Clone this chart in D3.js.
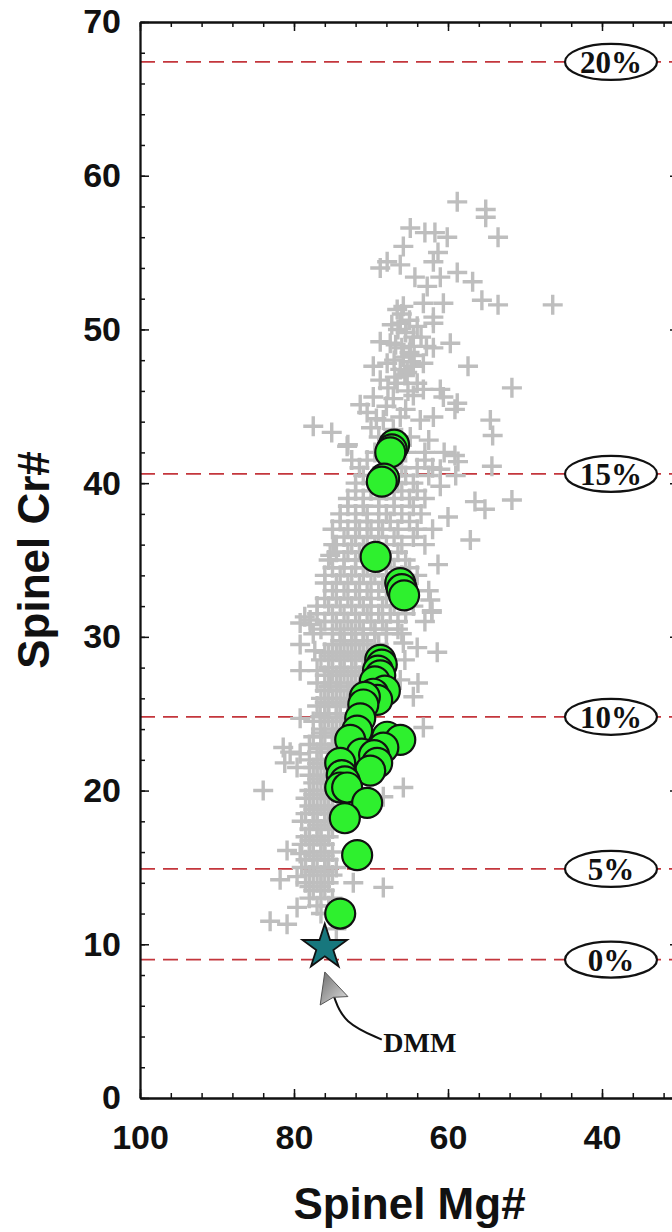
<!DOCTYPE html>
<html>
<head>
<meta charset="utf-8">
<script src="https://cdn.jsdelivr.net/npm/d3@7"></script>
<style>
  html, body { margin: 0; padding: 0; background: #fff; }
  svg { display: block; }
</style>
</head>
<body>
<div id="chart"></div>
<script>
// Spinel Mg# (x, reversed) vs Spinel Cr# (y)
const xMajorTicks = [100, 80, 60, 40];
const yMajorTicks = [0, 10, 20, 30, 40, 50, 60, 70];

// melting degree reference lines
const meltLabels = ["0%", "5%", "10%", "15%", "20%"];
const meltCr = [9.0, 14.9, 24.8, 40.6, 67.4];

// gray crosses, [Mg#, Cr#]
const crossUpper = [
  [58.8,58.3],[55.1,57.8],[55.1,57.3],[53.5,56.0],[64.9,56.6],[63.0,56.3],[61.7,56.3],[60.1,56.0],
  [65.8,55.4],[61.3,55.0],[67.9,54.4],[68.8,54.0],[66.2,54.2],[61.9,54.4],[64.3,53.4],[61.0,53.4],
  [58.8,53.7],[56.8,53.1],[62.7,52.8],[55.6,51.9],[53.5,51.6],[46.4,51.6],[60.6,51.7],[63.2,51.7],
  [66.6,51.3],[65.8,51.5],[61.9,50.8],[61.9,50.4],[66.2,50.4],[64.0,50.2],[64.5,49.5],[67.5,49.1],
  [64.9,48.9],[59.7,49.1],[61.9,48.8],[68.8,49.2],[65.8,48.2],[69.7,47.6],[67.9,47.8],[66.2,47.4],
  [64.5,47.6],[63.2,47.8],[57.4,47.6],[68.8,46.7],[66.6,46.5],[65.3,47.2],[51.7,46.2],[69.7,45.6],
  [67.1,45.5],[64.5,45.7],[63.2,46.1],[61.0,46.1],[60.6,45.6],[58.8,45.2],[59.1,44.8],[71.4,45.1],
  [70.5,44.6],[68.4,44.1],[66.2,44.3],[63.6,44.1],[61.9,44.3],[54.5,44.1],[54.2,43.1],[77.5,43.7],
  [75.1,43.3],[73.1,42.4],[64.9,43.0],[67.1,43.5],
  [66.5,50.0],[65.5,49.8],[66.8,49.0],[65.0,48.5],[66.0,48.8],[67.0,48.0],[64.8,47.9],[65.6,47.0],
  [66.9,46.9],[67.8,46.2],[65.2,46.0],[64.0,46.5],[66.0,51.0],[65.0,50.6],[67.3,50.3],[64.4,48.3],
  [63.5,49.5],[62.8,48.9],[69.0,43.0],[70.0,43.6],[62.5,42.8],[68.0,45.0],[65.5,44.8],[69.3,44.2]
];

const crossMiddle = [
  [51.7,38.9],[54.3,41.1],[55.2,38.3],[59.1,41.8],[58.7,41.4],[61.0,40.9],[57.1,36.3],[61.3,34.7],
  [62.1,31.7],[62.3,32.4],[72.5,41.5],[74.9,36.0],[75.3,35.3],[78.6,31.3],[77.9,31.1],[73.0,42.5],
  [69.5,42.0],[67.5,42.0],[65.5,42.0],[63.0,42.0],[60.5,42.0],
  [70.5,41.5],[67.0,41.5],[63.0,41.5],
  [71.5,41.0],[68.5,41.0],[66.0,41.0],[64.0,41.0],[62.0,41.0],[59.0,40.5],
  [71.0,40.5],[68.0,40.5],[65.5,40.5],[62.5,40.5],
  [72.0,40.0],[70.0,40.0],[66.5,40.0],[64.5,40.0],[61.0,39.8],
  [72.0,39.5],[70.0,39.5],[68.0,39.5],[66.0,39.5],[64.0,39.5],
  [73.0,39.0],[71.0,39.0],[69.0,39.0],[67.0,39.0],[65.0,39.0],[63.0,39.0],[56.5,38.8],
  [73.0,38.5],[71.0,38.5],[69.0,38.5],[67.0,38.5],[64.5,38.5],
  [74.0,38.0],[72.0,38.0],[70.5,38.0],[68.0,38.0],[66.0,38.0],[63.5,38.0],[60.0,37.8],
  [74.0,37.5],[72.0,37.5],[70.5,37.5],[69.0,37.5],[67.5,37.5],[65.0,37.5],
  [75.0,37.0],[73.0,37.0],[71.5,37.0],[70.0,37.0],[68.5,37.0],[66.5,37.0],[64.0,37.0],[62.0,37.0],
  [73.5,36.5],[72.0,36.5],[70.5,36.5],[69.0,36.5],[67.0,36.5],[64.5,36.5],
  [74.5,36.0],[72.5,36.0],[71.0,36.0],[69.5,36.0],[68.0,36.0],[66.0,36.0],[63.0,36.0],
  [74.5,35.5],[73.0,35.5],[71.5,35.5],[70.0,35.5],[68.5,35.5],[66.5,35.5],
  [75.5,35.0],[73.5,35.0],[72.0,35.0],[70.5,35.0],[69.0,35.0],[67.5,35.0],[65.5,35.0],
  [75.0,34.5],[73.5,34.5],[72.0,34.5],[70.5,34.5],[69.0,34.5],[67.0,34.5],[65.0,34.5],
  [76.0,34.0],[74.0,34.0],[72.5,34.0],[71.0,34.0],[69.5,34.0],[68.0,34.0],[66.0,34.0],[64.0,34.0],
  [76.0,33.5],[74.5,33.5],[73.0,33.5],[71.5,33.5],[70.0,33.5],[68.5,33.5],[66.5,33.5],
  [75.0,33.0],[73.5,33.0],[72.0,33.0],[70.5,33.0],[69.0,33.0],[67.5,33.0],[65.0,33.0],[62.5,33.0],
  [76.0,32.5],[74.5,32.5],[73.0,32.5],[71.5,32.5],[70.0,32.5],[68.0,32.5],[66.0,32.5],
  [77.0,32.0],[75.5,32.0],[74.0,32.0],[72.5,32.0],[71.0,32.0],[70.0,32.0],[68.5,32.0],[67.0,32.0],[64.5,32.0],
  [77.0,31.5],[75.0,31.5],[73.5,31.5],[72.0,31.5],[70.5,31.5],[69.0,31.5],[67.5,31.5],[65.5,31.5],
  [76.0,31.0],[74.5,31.0],[73.0,31.0],[71.5,31.0],[70.0,31.0],[68.5,31.0],[66.5,31.0],[63.0,31.0],
  [76.5,30.5],[74.0,30.5],[72.5,30.5],[71.0,30.5],[69.5,30.5],[68.0,30.5],[66.5,30.5],
  [77.5,30.2],[75.0,30.2],[73.5,30.2],[72.0,30.2],[71.0,30.2],[69.5,30.2],[68.0,30.2],[66.0,30.2],[62.1,31.6],
  [79.2,30.9],[77.9,30.8]
];

const crossLower = [
  [65.8,29.6],[64.0,29.3],[61.4,29.0],[79.2,27.8],[77.0,27.8],[75.3,27.0],[64.5,26.1],[79.2,24.7],
  [76.6,24.8],[63.2,24.1],[81.4,22.8],[80.5,22.5],[79.2,22.4],[81.2,21.8],[79.6,21.5],[84.0,20.0],
  [65.8,20.2],[68.4,19.6],[80.9,16.1],[79.2,15.9],[81.8,14.2],[79.6,14.4],[68.4,13.7],[72.3,14.0],
  [79.6,12.4],[83.1,11.5],[80.9,11.3],[66.2,27.2],[63.9,27.0],[65.6,28.5],[79.2,29.5],[77.3,29.1],
  [75.0,29.5],[73.5,29.5],[72.0,29.5],[70.5,29.5],[69.0,29.5],
  [74.0,29.75],[72.5,29.75],[71.0,29.75],
  [76.0,29.0],[74.5,29.0],[73.0,29.0],[71.5,29.0],[70.0,29.0],
  [75.5,28.75],[74.0,28.75],[72.5,28.75],[71.0,28.75],
  [76.5,28.5],[75.0,28.5],[73.5,28.5],[72.0,28.5],[70.5,28.5],
  [75.5,28.0],[74.0,28.0],[72.5,28.0],[71.0,28.0],
  [75.0,27.75],[73.5,27.75],[72.0,27.75],
  [76.0,27.5],[74.5,27.5],[73.0,27.5],[71.5,27.5],
  [77.0,27.0],[74.0,27.0],[72.5,27.0],[71.0,27.0],
  [75.5,26.75],[74.0,26.75],[72.5,26.75],
  [76.0,26.5],[74.5,26.5],[73.0,26.5],[71.5,26.5],
  [76.5,26.0],[75.0,26.0],[73.5,26.0],[72.0,26.0],
  [76.0,25.75],[74.5,25.75],[73.0,25.75],
  [77.0,25.5],[75.5,25.5],[74.0,25.5],[72.5,25.5],
  [76.0,25.0],[74.5,25.0],[73.0,25.0],
  [75.5,24.75],[74.0,24.75],[72.5,24.75],
  [77.5,24.5],[76.0,24.5],[74.5,24.5],[73.0,24.5],
  [76.5,24.0],[75.0,24.0],[73.5,24.0],
  [76.5,23.75],[75.0,23.75],[73.5,23.75],
  [77.5,23.5],[76.0,23.5],[74.5,23.5],[73.0,23.5],
  [78.0,23.0],[76.5,23.0],[75.0,23.0],[73.5,23.0],
  [76.5,22.75],[75.0,22.75],
  [77.0,22.5],[75.5,22.5],[74.0,22.5],
  [78.0,22.0],[76.5,22.0],[75.0,22.0],
  [77.0,21.75],[75.5,21.75],
  [77.5,21.5],[76.0,21.5],[74.5,21.5],
  [78.0,21.0],[76.5,21.0],[75.0,21.0],
  [77.0,20.75],[75.5,20.75],
  [77.5,20.5],[76.0,20.5],[74.5,20.5],
  [78.0,20.0],[76.5,20.0],[75.0,20.0],
  [77.5,19.75],[76.0,19.75],
  [78.5,19.5],[77.0,19.5],[75.5,19.5],
  [78.0,19.0],[76.5,19.0],[75.0,19.0],
  [77.5,18.75],[76.0,18.75],
  [78.5,18.5],[77.0,18.5],[75.5,18.5],
  [79.0,18.0],[77.5,18.0],[76.0,18.0],[74.5,18.0],
  [77.0,17.75],[75.5,17.75],
  [78.0,17.5],[76.5,17.5],[75.0,17.5],
  [78.5,17.0],[77.0,17.0],[75.5,17.0],
  [78.0,16.75],[76.5,16.75],
  [79.0,16.5],[77.5,16.5],[76.0,16.5],
  [78.0,16.0],[76.5,16.0],[75.0,16.0],
  [77.5,15.75],[76.0,15.75],
  [78.5,15.5],[77.0,15.5],[75.5,15.5],
  [79.0,15.0],[77.5,15.0],[76.0,15.0],[74.5,15.0],
  [77.5,14.75],[76.0,14.75],
  [78.0,14.5],[76.5,14.5],[75.0,14.5],
  [78.5,14.0],[77.0,14.0],[75.5,14.0],
  [78.0,13.75],[76.5,13.75],
  [77.5,13.5],[76.0,13.5],
  [78.0,13.0],[76.5,13.0],[75.0,13.0],
  [77.0,12.5],[75.5,12.5],
  [76.5,12.0],[75.0,12.0],[74.5,11.0]
];

// green circles, [Mg#, Cr#]
const greenPts = [
  [67.0,42.5],[67.3,42.2],[67.5,42.0],[68.3,40.3],[68.6,40.1],[69.4,35.2],[66.2,33.5],[66.0,33.1],
  [65.7,32.7],[68.8,28.5],[68.6,28.2],[69.1,27.8],[68.8,27.5],[69.5,27.1],[68.2,26.5],[69.7,26.3],
  [69.2,25.9],[70.8,26.1],[71.0,25.6],[71.4,24.7],[71.8,23.9],[72.7,23.3],[67.9,23.5],[66.2,23.3],
  [68.4,22.8],[71.2,22.4],[69.6,22.3],[69.2,21.8],[70.1,21.3],[74.0,21.8],[73.8,21.0],[73.4,20.6],
  [74.0,20.2],[73.1,20.2],[70.5,19.2],[73.4,18.2],[71.8,15.8],[74.0,12.0]
];

// DMM star and its annotation (data units)
const dmm = [76.0, 10.0];
const dmmArrowHead = [[76.0,8.2],[76.6,6.05],[74.9,6.55],[73.0,6.6]];
const dmmArrowLine = [[74.8,6.6],[73.6,4.9],[68.6,3.8]];
const dmmLabel = [68.4, 3.0];

const width = 672, height = 1232;
const x = d3.scaleLinear().domain([100, 30]).range([140, 679]);
const y = d3.scaleLinear().domain([0, 70]).range([1098, 22]);

const svg = d3.select("#chart").append("svg")
  .attr("width", width)
  .attr("height", height)
  .style("background", "#fff");

// reference dashed lines
const meltG = svg.append("g");
meltCr.forEach(c => {
  meltG.append("line")
    .attr("x1", x(100)).attr("x2", x(30))
    .attr("y1", y(c)).attr("y2", y(c))
    .attr("stroke", "#c4363c")
    .attr("stroke-width", 1.7)
    .attr("stroke-dasharray", "15,8");
});

// crosses
const allCrosses = crossUpper.concat(crossMiddle, crossLower);
svg.append("g")
  .selectAll("path")
  .data(allCrosses)
  .join("path")
  .attr("d", d => `M${x(d[0]) - 10},${y(d[1])}h20M${x(d[0])},${y(d[1]) - 10}v20`)
  .attr("stroke", "#bebebe")
  .attr("stroke-width", 3.4)
  .attr("fill", "none");

// green circles
svg.append("g")
  .selectAll("circle")
  .data(greenPts)
  .join("circle")
  .attr("cx", d => x(d[0]))
  .attr("cy", d => y(d[1]))
  .attr("r", 15)
  .attr("fill", "#2ef02e")
  .attr("stroke", "#111")
  .attr("stroke-width", 2.2);

// star
svg.append("path")
  .attr("d", d3.symbol().type(d3.symbolStar).size(620)())
  .attr("transform", `translate(${x(dmm[0])},${y(dmm[1]) + 3})`)
  .attr("fill", "#17777d")
  .attr("stroke", "#111")
  .attr("stroke-width", 1.8);

// DMM arrow
const defs = svg.append("defs");
const grad = defs.append("linearGradient").attr("id", "arrowGrad")
  .attr("x1", "0").attr("y1", "0").attr("x2", "1").attr("y2", "1");
grad.append("stop").attr("offset", "0%").attr("stop-color", "#6e6e6e");
grad.append("stop").attr("offset", "100%").attr("stop-color", "#e0e0e0");

const curve = d3.line().x(d => x(d[0])).y(d => y(d[1])).curve(d3.curveBasis);
svg.append("path")
  .attr("d", curve(dmmArrowLine))
  .attr("fill", "none")
  .attr("stroke", "#111")
  .attr("stroke-width", 2);

svg.append("path")
  .attr("d", d3.line().x(d => x(d[0])).y(d => y(d[1]))(dmmArrowHead) + "Z")
  .attr("fill", "url(#arrowGrad)")
  .attr("stroke", "#555")
  .attr("stroke-width", 1);

svg.append("text")
  .attr("x", x(dmmLabel[0]))
  .attr("y", y(dmmLabel[1]))
  .attr("font-family", "'Liberation Serif', 'Times New Roman', serif")
  .attr("font-weight", "bold")
  .attr("font-size", 28)
  .attr("fill", "#111")
  .text("DMM");

// melt labels in ellipses
meltCr.forEach((c, i) => {
  const g = svg.append("g").attr("transform", `translate(611,${y(c)})`);
  g.append("ellipse")
    .attr("rx", 46).attr("ry", 18)
    .attr("fill", "#fff")
    .attr("stroke", "#111")
    .attr("stroke-width", 2.2);
  g.append("text")
    .attr("text-anchor", "middle")
    .attr("dy", "0.35em")
    .attr("font-family", "'Liberation Serif', 'Times New Roman', serif")
    .attr("font-weight", "bold")
    .attr("font-size", 31)
    .attr("fill", "#111")
    .text(meltLabels[i]);
});

// axes
const xMinor = d3.range(100, 29, -4);
const yMinor = d3.range(0, 71, 2);
const tickFont = "'Liberation Sans', Arial, sans-serif";

function styleAxis(g) {
  g.select(".domain").attr("stroke", "#111").attr("stroke-width", 1.8);
  g.selectAll(".tick line").attr("stroke", "#111").attr("stroke-width", 1.5);
  g.selectAll("text")
    .attr("font-family", tickFont)
    .attr("font-weight", "bold")
    .attr("font-size", 34)
    .attr("fill", "#111");
}

// bottom
svg.append("g").attr("transform", `translate(0,${y(0)})`)
  .call(d3.axisBottom(x).tickValues(xMinor).tickSize(-5).tickSizeOuter(0).tickFormat(""))
  .call(styleAxis);
svg.append("g").attr("transform", `translate(0,${y(0)})`)
  .call(d3.axisBottom(x).tickValues(xMajorTicks).tickSize(-9).tickSizeOuter(0).tickPadding(27).tickFormat(d3.format("d")))
  .call(styleAxis);

// top
svg.append("g").attr("transform", `translate(0,${y(70)})`)
  .call(d3.axisTop(x).tickValues(xMinor).tickSize(-5).tickSizeOuter(0).tickFormat(""))
  .call(styleAxis);
svg.append("g").attr("transform", `translate(0,${y(70)})`)
  .call(d3.axisTop(x).tickValues(xMajorTicks).tickSize(-9).tickSizeOuter(0).tickFormat(""))
  .call(styleAxis);

// left
svg.append("g").attr("transform", `translate(${x(100)},0)`)
  .call(d3.axisLeft(y).tickValues(yMinor).tickSize(-5).tickSizeOuter(0).tickFormat(""))
  .call(styleAxis);
svg.append("g").attr("transform", `translate(${x(100)},0)`)
  .call(d3.axisLeft(y).tickValues(yMajorTicks).tickSize(-9).tickSizeOuter(0).tickPadding(19).tickFormat(d3.format("d")))
  .call(styleAxis);

// right (mostly off-canvas)
svg.append("g").attr("transform", `translate(${x(30)},0)`)
  .call(d3.axisRight(y).tickValues(yMinor).tickSize(-5).tickSizeOuter(0).tickFormat(""))
  .call(styleAxis);
svg.append("g").attr("transform", `translate(${x(30)},0)`)
  .call(d3.axisRight(y).tickValues(yMajorTicks).tickSize(-9).tickSizeOuter(0).tickFormat(""))
  .call(styleAxis);

// axis titles
svg.append("text")
  .attr("x", (x(100) + x(30)) / 2)
  .attr("y", 1219)
  .attr("text-anchor", "middle")
  .attr("font-family", tickFont)
  .attr("font-weight", "bold")
  .attr("font-size", 44)
  .attr("fill", "#111")
  .text("Spinel Mg#");

svg.append("text")
  .attr("transform", `translate(49,${(y(0) + y(70)) / 2}) rotate(-90)`)
  .attr("text-anchor", "middle")
  .attr("font-family", tickFont)
  .attr("font-weight", "bold")
  .attr("font-size", 44)
  .attr("fill", "#111")
  .text("Spinel Cr#");
</script>
</body>
</html>
